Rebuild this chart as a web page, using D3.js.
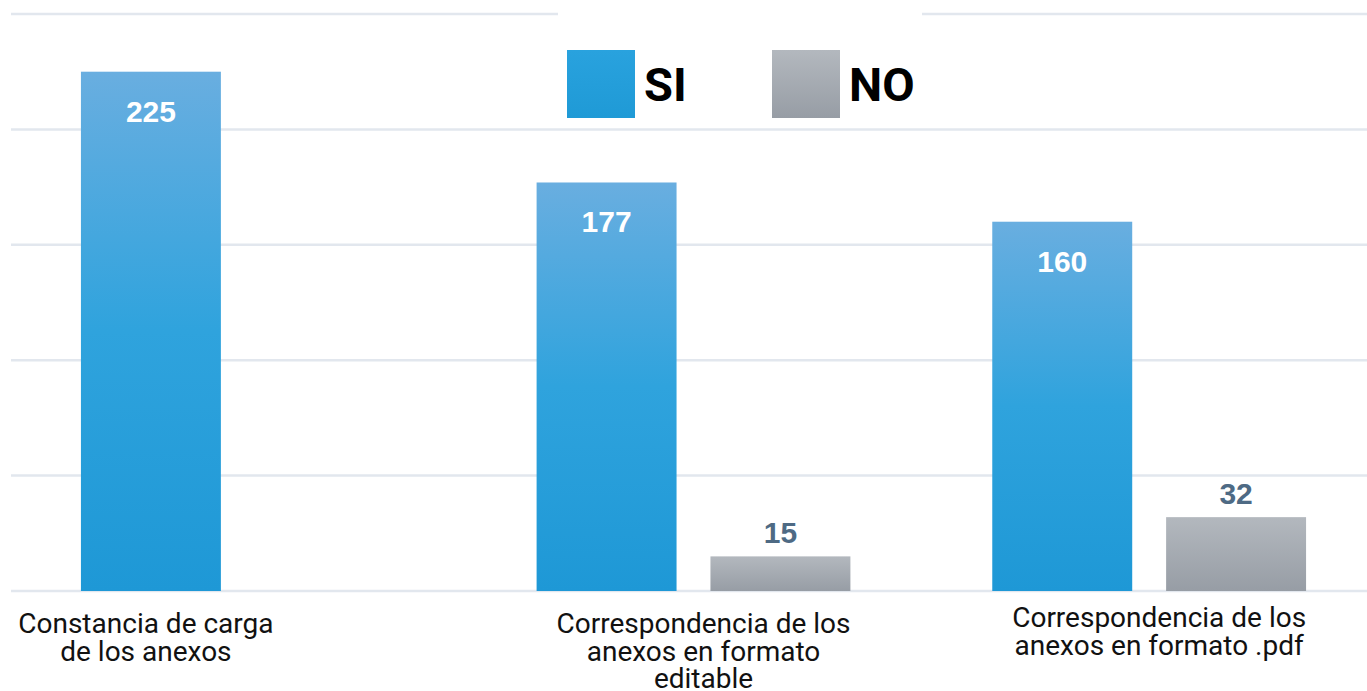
<!DOCTYPE html>
<html>
<head>
<meta charset="utf-8">
<script src="https://cdn.jsdelivr.net/npm/d3@7"></script>
<style>
  body { margin: 0; background: #fff; }
  svg { display: block; }
</style>
</head>
<body>
<svg id="chart" width="1367" height="691"></svg>
<script>
// data
const categories = [
    ["Constancia de carga", "de los anexos"],
    ["Correspondencia de los", "anexos en formato", "editable"],
    ["Correspondencia de los", "anexos en formato .pdf"]
];
const seriesNames = ["SI", "NO"];
const siValues = [225, 177, 160];
const noValues = [null, 15, 32];
const yTicks = [0, 50, 100, 150, 200, 250];

const svg = d3.select('#chart');
const width = 1367;

const y = d3.scaleLinear().domain([0, 250]).range([591, 14]);
const x0 = d3.scaleBand().domain(d3.range(categories.length)).range([10, 1377]);
const x1 = d3.scaleBand().domain(seriesNames).range([0, x0.bandwidth()])
    .paddingInner(0.195).paddingOuter(0.408);

// gradients
const defs = svg.append('defs');
const gSi = defs.append('linearGradient').attr('id', 'gradSi')
    .attr('x1', 0).attr('y1', 0).attr('x2', 0).attr('y2', 1);
gSi.append('stop').attr('offset', '0%').attr('stop-color', '#69aee0');
gSi.append('stop').attr('offset', '50%').attr('stop-color', '#2fa3dd');
gSi.append('stop').attr('offset', '100%').attr('stop-color', '#1e98d6');
const gNo = defs.append('linearGradient').attr('id', 'gradNo')
    .attr('x1', 0).attr('y1', 0).attr('x2', 0).attr('y2', 1);
gNo.append('stop').attr('offset', '0%').attr('stop-color', '#b3b8be');
gNo.append('stop').attr('offset', '100%').attr('stop-color', '#979da5');
const gLegSi = defs.append('linearGradient').attr('id', 'gradLegSi')
    .attr('x1', 0).attr('y1', 0).attr('x2', 0).attr('y2', 1);
gLegSi.append('stop').attr('offset', '0%').attr('stop-color', '#29a2de');
gLegSi.append('stop').attr('offset', '100%').attr('stop-color', '#1f9ad6');

// gridlines
svg.append('g').selectAll('line')
    .data(yTicks)
    .join('line')
    .attr('x1', 11).attr('x2', width)
    .attr('y1', d => y(d)).attr('y2', d => y(d))
    .attr('stroke', '#e2e7ee')
    .attr('stroke-width', 2.5);

// bars
const groups = svg.append('g').selectAll('g')
    .data(categories.map((c, i) => ({ i, si: siValues[i], no: noValues[i] })))
    .join('g')
    .attr('transform', d => `translate(${x0(d.i)},0)`);

groups.append('rect')
    .attr('x', x1('SI'))
    .attr('width', x1.bandwidth())
    .attr('y', d => y(d.si))
    .attr('height', d => y(0) - y(d.si))
    .attr('fill', 'url(#gradSi)');

groups.filter(d => d.no != null).append('rect')
    .attr('x', x1('NO'))
    .attr('width', x1.bandwidth())
    .attr('y', d => y(d.no))
    .attr('height', d => y(0) - y(d.no))
    .attr('fill', 'url(#gradNo)');

// value labels
groups.append('text')
    .attr('x', x1('SI') + x1.bandwidth() / 2)
    .attr('y', d => y(d.si) + 50)
    .attr('text-anchor', 'middle')
    .attr('font-family', 'Liberation Sans, Arial, sans-serif')
    .attr('font-weight', 'bold')
    .attr('font-size', 30)
    .attr('fill', '#fff')
    .text(d => d.si);

groups.filter(d => d.no != null).append('text')
    .attr('x', x1('NO') + x1.bandwidth() / 2)
    .attr('y', d => y(d.no) - 13)
    .attr('text-anchor', 'middle')
    .attr('font-family', 'Liberation Sans, Arial, sans-serif')
    .attr('font-weight', 'bold')
    .attr('font-size', 30)
    .attr('fill', '#4e6a84')
    .text(d => d.no);

// category labels
const labelTop = [633, 633, 627];
groups.append('text')
    .attr('text-anchor', 'middle')
    .attr('font-family', 'Roboto, sans-serif')
    .attr('font-size', 28)
    .attr('fill', '#111')
    .each(function(d) {
        const cx = d.no == null ? x1('SI') + x1.bandwidth() / 2 - 5 : x0.bandwidth() / 2 + 10;
        d3.select(this).selectAll('tspan')
            .data(categories[d.i])
            .join('tspan')
            .attr('x', cx)
            .attr('y', (t, j) => labelTop[d.i] + j * 27.5)
            .text(t => t);
    });

// legend
const legend = svg.append('g');
legend.append('rect')
    .attr('x', 558).attr('y', 6).attr('width', 364).attr('height', 120)
    .attr('fill', '#fff');
const legX = [567, 772];
seriesNames.forEach((s, i) => {
    legend.append('rect')
        .attr('x', legX[i]).attr('y', 50)
        .attr('width', 68).attr('height', 68)
        .attr('fill', i === 0 ? 'url(#gradLegSi)' : 'url(#gradNo)');
    legend.append('text')
        .attr('x', legX[i] + 77).attr('y', 101)
        .attr('font-family', 'Roboto, sans-serif')
        .attr('font-weight', 'bold')
        .attr('font-size', 47)
        .attr('fill', '#000')
        .text(s);
});
</script>
</body>
</html>
